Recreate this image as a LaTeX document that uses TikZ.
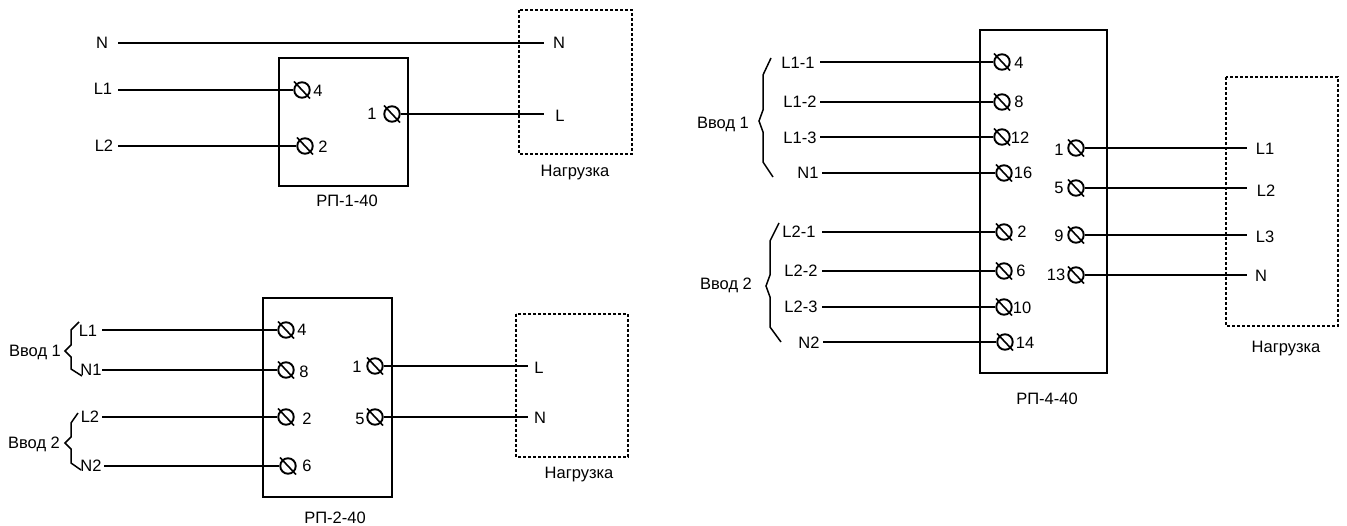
\documentclass[tikz,border=0pt]{standalone}
\usepackage{fontspec}
\setmainfont{Liberation Sans}
\tikzset{
	wire/.style={line width=1.7pt},
	casing/.style={line width=1.7pt},
	load/.style={line width=1.8pt, dash pattern=on 3pt off 2pt},
	brace/.style={line width=1.5pt},
	terminal/.style={draw, circle, line width=1.9pt, minimum size=15.5pt, inner sep=0pt},
	termslash/.style={line width=1.6pt},
	lbl/.style={inner sep=0pt, font=\fontsize{16.5}{18}\selectfont}
}
\def\terminal(#1)(#2){\node[terminal] (#1) at (#2) {}; \draw[termslash] (#1.center) ++(-8,-8.5) -- ++(16,17);}

\begin{document}
\begin{tikzpicture}[x=1pt, y=-1pt]
	\useasboundingbox (0, 0) rectangle (1347, 526);
	
	%%%%% RP-1 %%%%%
	
	\draw[casing] (279, 58) rectangle (408, 186);
	\draw[load] (519, 10) rectangle (632, 154);
	
	\terminal(ta4)(302, 90)
	\terminal(ta2)(305, 146)
	\terminal(ta1)(392, 114)
	
	\node[lbl] (na4) at (318, 91) {4};
	\node[lbl] (na2) at (323, 147) {2};
	\node[lbl] (na1) at (372, 114) {1};
	\node[lbl] (laN) at (102, 43) {N};
	\node[lbl] (laL1) at (103, 89) {L1};
	\node[lbl] (laL2) at (104, 146) {L2};
	\node[lbl] (raN) at (559, 43) {N};
	\node[lbl] (raL) at (560, 116) {L};
	\node[lbl] (capa) at (347, 201) {РП-1-40};
	\node[lbl] (loada) at (575, 173) {Нагрузка};
	
	\coordinate (saN) at (118, 43);
	\coordinate (eaN) at (544, 43);
	\coordinate (saL1) at (118, 90);
	\coordinate (saL2) at (118, 146);
	\coordinate (eaL) at (544, 114);
	
	\draw[wire] (saN) -- (eaN);
	\draw[wire] (saL1) -- (ta4);
	\draw[wire] (saL2) -- (ta2);
	\draw[wire] (ta1) -- (eaL);
	
	%%%%% RP-2 %%%%%
	
	\draw[casing] (263, 298) rectangle (392, 497);
	\draw[load] (516, 314) rectangle (628, 457);
	
	\terminal(tb4)(286, 330)
	\terminal(tb8)(286, 370)
	\terminal(tb2)(286, 417)
	\terminal(tb6)(288, 466)
	\terminal(tb1)(375, 366)
	\terminal(tb5)(375, 417)
	
	\node[lbl] (nb4) at (302, 330) {4};
	\node[lbl] (nb8) at (304, 372) {8};
	\node[lbl] (nb2) at (307, 419) {2};
	\node[lbl] (nb6) at (307, 466) {6};
	\node[lbl] (nb1) at (357, 367) {1};
	\node[lbl] (nb5) at (360, 419) {5};
	\node[lbl] (lbL1) at (88, 331) {L1};
	\node[lbl] (lbN1) at (91, 370) {N1};
	\node[lbl] (lbL2) at (90, 417) {L2};
	\node[lbl] (lbN2) at (91, 466) {N2};
	\node[lbl] (rbL) at (539, 368) {L};
	\node[lbl] (rbN) at (540, 418) {N};
	\node[lbl] (inb1) at (35, 352) {Ввод 1};
	\node[lbl] (inb2) at (34, 444) {Ввод 2};
	\node[lbl] (capb) at (335, 518) {РП-2-40};
	\node[lbl] (loadb) at (579, 475) {Нагрузка};
	
	\coordinate (sbL1) at (102, 330);
	\coordinate (sbN1) at (102, 370);
	\coordinate (sbL2) at (102, 417);
	\coordinate (sbN2) at (104, 466);
	\coordinate (ebL) at (528, 366);
	\coordinate (ebN) at (528, 417);
	
	\draw[wire] (sbL1) -- (tb4);
	\draw[wire] (sbN1) -- (tb8);
	\draw[wire] (sbL2) -- (tb2);
	\draw[wire] (sbN2) -- (tb6);
	\draw[wire] (tb1) -- (ebL);
	\draw[wire] (tb5) -- (ebN);
	
	\draw[brace] (79, 322) -- (71, 330) -- (71, 345) -- (65, 351) -- (71, 357) -- (71, 369) -- (82, 376);
	\draw[brace] (78, 413) -- (71, 423) -- (71, 437) -- (65, 443) -- (71, 449) -- (71, 463) -- (81, 470);
	
	%%%%% RP-4 %%%%%
	
	\draw[casing] (980, 30) rectangle (1107, 373);
	\draw[load] (1226, 77) rectangle (1338, 326);
	
	\terminal(tc4)(1002, 62)
	\terminal(tc8)(1002, 102)
	\terminal(tc12)(1002, 137)
	\terminal(tc16)(1004, 173)
	\terminal(tc2)(1004, 232)
	\terminal(tc6)(1004, 271)
	\terminal(tc10)(1004, 307)
	\terminal(tc14)(1005, 342)
	\terminal(tc1)(1076, 148)
	\terminal(tc5)(1076, 188)
	\terminal(tc9)(1076, 235)
	\terminal(tc13)(1076, 275)
	
	\node[lbl] (nc4) at (1019, 63) {4};
	\node[lbl] (nc8) at (1019, 102) {8};
	\node[lbl] (nc12) at (1020, 138) {12};
	\node[lbl] (nc16) at (1023, 173) {16};
	\node[lbl] (nc2) at (1022, 232) {2};
	\node[lbl] (nc6) at (1021, 271) {6};
	\node[lbl] (nc10) at (1022, 308) {10};
	\node[lbl] (nc14) at (1025, 343) {14};
	\node[lbl] (nc1) at (1059, 150) {1};
	\node[lbl] (nc5) at (1059, 188) {5};
	\node[lbl] (nc9) at (1059, 236) {9};
	\node[lbl] (nc13) at (1056, 275) {13};
	\node[lbl] (lcA) at (798, 63) {L1-1};
	\node[lbl] (lcB) at (800, 102) {L1-2};
	\node[lbl] (lcC) at (800, 138) {L1-3};
	\node[lbl] (lcN1) at (808, 173) {N1};
	\node[lbl] (lcD) at (799, 232) {L2-1};
	\node[lbl] (lcE) at (801, 271) {L2-2};
	\node[lbl] (lcF) at (801, 307) {L2-3};
	\node[lbl] (lcN2) at (809, 343) {N2};
	\node[lbl] (rcL1) at (1265, 149) {L1};
	\node[lbl] (rcL2) at (1266, 191) {L2};
	\node[lbl] (rcL3) at (1265, 237) {L3};
	\node[lbl] (rcN) at (1261, 276) {N};
	\node[lbl] (inc1) at (723, 124) {Ввод 1};
	\node[lbl] (inc2) at (726, 285) {Ввод 2};
	\node[lbl] (capc) at (1047, 399) {РП-4-40};
	\node[lbl] (loadc) at (1286, 349) {Нагрузка};
	
	\coordinate (scA) at (820, 62);
	\coordinate (scB) at (820, 102);
	\coordinate (scC) at (820, 137);
	\coordinate (scN1) at (822, 173);
	\coordinate (scD) at (822, 232);
	\coordinate (scE) at (822, 271);
	\coordinate (scF) at (822, 307);
	\coordinate (scN2) at (823, 342);
	\coordinate (ecL1) at (1247, 148);
	\coordinate (ecL2) at (1247, 188);
	\coordinate (ecL3) at (1247, 235);
	\coordinate (ecN) at (1247, 275);
	
	\draw[wire] (scA) -- (tc4);
	\draw[wire] (scB) -- (tc8);
	\draw[wire] (scC) -- (tc12);
	\draw[wire] (scN1) -- (tc16);
	\draw[wire] (scD) -- (tc2);
	\draw[wire] (scE) -- (tc6);
	\draw[wire] (scF) -- (tc10);
	\draw[wire] (scN2) -- (tc14);
	\draw[wire] (tc1) -- (ecL1);
	\draw[wire] (tc5) -- (ecL2);
	\draw[wire] (tc9) -- (ecL3);
	\draw[wire] (tc13) -- (ecN);
	
	\draw[brace] (771, 58) -- (763, 75) -- (763, 110) -- (759, 121) -- (763, 132) -- (763, 162) -- (773, 177);
	\draw[brace] (779, 223) -- (770, 241) -- (770, 275) -- (766, 286) -- (770, 297) -- (770, 327) -- (781, 342);
\end{tikzpicture}
\end{document}
